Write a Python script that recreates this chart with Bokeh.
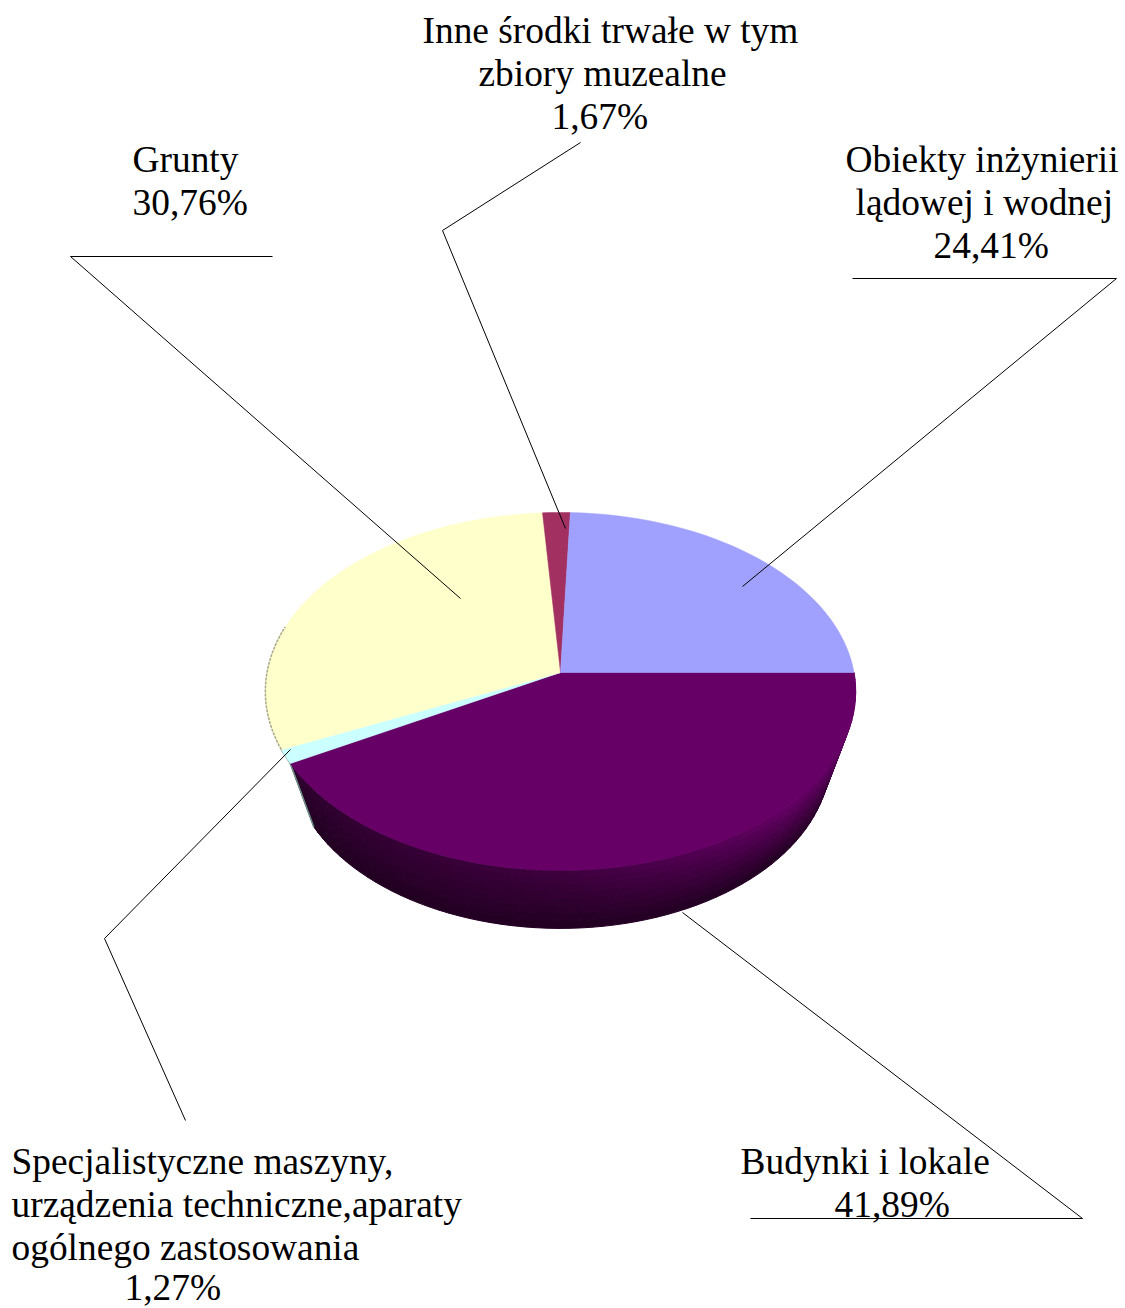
import math
from bokeh.plotting import figure
from bokeh.models import Range1d
from bokeh.core.properties import value
from bokeh.embed import file_html
from bokeh.resources import INLINE

# Data, clockwise from the east point of the pie
categories = ["Budynki i lokale", "Specjalistyczne maszyny", "Grunty", "Inne środki trwałe", "Obiekty inżynierii"]
shares = [41.89, 1.27, 30.76, 1.67, 24.41]
colors = ["#660066", "#CCFFFF", "#FFFFCC", "#A23060", "#A0A0FF"]

# Label lines
label_lines = [
    "Inne środki trwałe w tym", "zbiory muzealne", "1,67%",
    "Grunty", "30,76%",
    "Obiekty inżynierii", "lądowej i wodnej", "24,41%",
    "Budynki i lokale", "41,89%",
    "Specjalistyczne maszyny,", "urządzenia techniczne,aparaty", "ogólnego zastosowania", "1,27%",
]
label_x = [422, 478, 551, 132, 132, 845, 855, 933, 740, 834, 11, 11, 11, 124]
label_y = [30, 73, 116, 159, 202, 159, 202, 245, 1161, 1204, 1161, 1204, 1247, 1287]

# Leader lines
leaders = [
    ([272, 70, 460], [256, 256, 598]),
    ([580, 442, 565], [142, 230, 528]),
    ([852, 1116, 742], [278, 278, 586]),
    ([682, 1082, 750], [912, 1218, 1218]),
    ([290, 104, 185], [749, 938, 1120]),
]

# Perspective projection of the pie disc
CX, CY = 560.0, 672.0
K = 0.106
R_TOP, A_TOP = 293.5, 177.0
R_BOT, A_BOT, CY_BOT = 268.0, 168.0, 740.0


def top_pt(deg):
    c, s = math.cos(math.radians(deg)), math.sin(math.radians(deg))
    d = 1 - K * s
    return CX + R_TOP * c / d, CY + A_TOP * s / d


def bot_pt(deg):
    c, s = math.cos(math.radians(deg)), math.sin(math.radians(deg))
    d = 1 - K * s
    return CX + R_BOT * c / d, CY_BOT + A_BOT * s / d


def lerp(a, b, u):
    return a + (b - a) * max(0.0, min(1.0, u))


def shade(deg, h):
    if deg < 45:
        top = 1.0
    elif deg < 90:
        top = lerp(1.0, 0.62, (deg - 45) / 45)
    else:
        top = lerp(0.62, 0.45, (deg - 90) / 60)
    bottom = lerp(0.55, 0.33, deg / 40) if deg < 40 else 0.33
    f = lerp(top, bottom, h)
    return "#%02x%02x%02x" % (int(102 * f), 0, int(102 * f))


p = figure(width=1125, height=1308, x_range=Range1d(0, 1125), y_range=Range1d(1308, 0),
           output_backend="svg", toolbar_location=None, min_border=0, outline_line_color=None,
           background_fill_color="white", border_fill_color="white")
p.axis.visible = False
p.grid.visible = False

# Slice angles from the data
angles = []
start = 0.0
for share in shares:
    end = start + share * 3.6
    angles.append((start, end))
    start = end

# Wall of the large front slice
b0, b1 = angles[0]
wall_xs, wall_ys, wall_cs = [], [], []
STEPS, LEVELS = 70, 8
for i in range(STEPS):
    t0 = b0 + (b1 - b0) * i / STEPS
    t1 = b0 + (b1 - b0) * (i + 1) / STEPS
    a0, a1 = top_pt(t0), top_pt(t1)
    q0, q1 = bot_pt(t0), bot_pt(t1)
    for j in range(LEVELS):
        h0, h1 = j / LEVELS, (j + 1) / LEVELS
        wall_xs.append([lerp(a0[0], q0[0], h0), lerp(a1[0], q1[0], h0), lerp(a1[0], q1[0], h1), lerp(a0[0], q0[0], h1)])
        wall_ys.append([lerp(a0[1], q0[1], h0), lerp(a1[1], q1[1], h0), lerp(a1[1], q1[1], h1), lerp(a0[1], q0[1], h1)])
        wall_cs.append(shade((t0 + t1) / 2, (h0 + h1) / 2))
p.patches(wall_xs, wall_ys, fill_color=wall_cs, line_color=wall_cs, line_width=1)

# Thin grey-teal fringe on the left of the wall
c_end = angles[1][1]
fr = [top_pt(c_end), top_pt(b1), bot_pt(b1)]
p.line([q[0] for q in fr], [q[1] for q in fr], line_color="#6f8f86", line_width=1.5)

# Faces of the slices
xs, ys = [], []
for a0, a1 in angles:
    n = max(4, int((a1 - a0) / 1.5))
    pts = [top_pt(a0 + (a1 - a0) * i / n) for i in range(n + 1)]
    xs.append([CX] + [q[0] for q in pts])
    ys.append([CY] + [q[1] for q in pts])
p.patches(xs, ys, fill_color=colors, line_color=colors, line_width=0.5)

# Grey rim on the pale left-hand slice
g0 = angles[2][0]
rim = [top_pt(g0 + 40 * i / 30) for i in range(31)]
p.line([q[0] for q in rim], [q[1] for q in rim], line_color="#a8a88c", line_width=1.5, line_dash="3 1")

for lx, ly in leaders:
    p.line(lx, ly, line_color="black", line_width=1)

p.text(label_x, label_y, text=label_lines, text_font=value("Liberation Serif"), text_font_size="37.4px",
       text_color="black", text_align="left", text_baseline="alphabetic")

open("out.html", "w").write(file_html(p, INLINE))
